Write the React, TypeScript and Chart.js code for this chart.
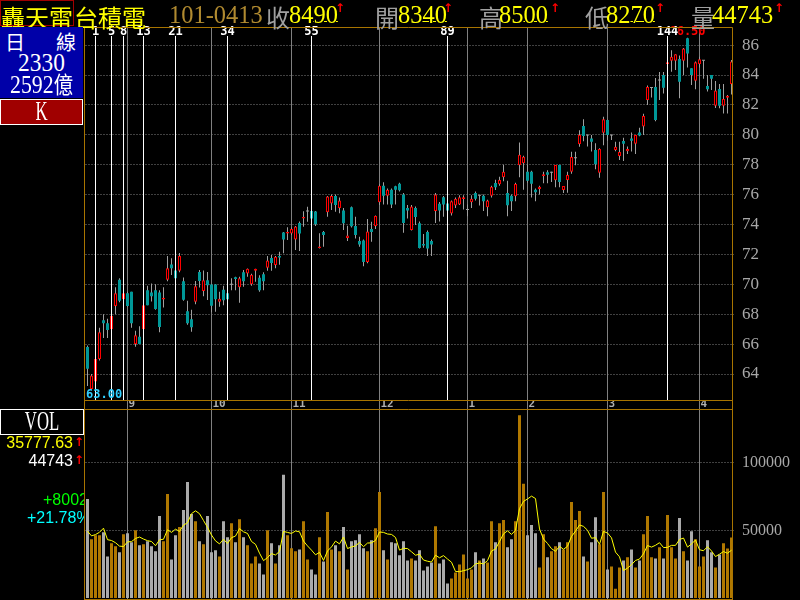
import React, { useEffect, useRef } from 'react';
import { Chart, registerables } from 'chart.js';

Chart.register(...registerables);

// ---------- data ----------
const monthLabels = ['8', '9', '10', '11', '12', '1', '2', '3', '4'];
const monthStartIndex = [0, 10, 31, 51, 73, 95, 110, 130, 153];

const opens = [65.80,63.00,63.50,65.00,67.60,67.40,67.00,68.55,70.30,69.00,
 69.40,69.50,66.00,66.50,67.00,69.60,69.45,69.60,69.45,68.98,
 70.30,71.33,70.93,70.90,70.20,68.20,67.67,68.84,70.82,69.56,
 70.27,69.98,69.98,68.84,69.64,69.40,70.00,70.47,69.80,70.80,
 70.73,70.00,70.90,70.44,70.67,71.10,71.76,71.29,71.90,73.47,
 73.40,73.40,73.00,74.10,74.40,74.90,74.90,74.87,72.42,73.50,
 74.82,75.40,75.90,75.10,74.93,73.09,75.16,73.90,72.89,72.93,
 71.49,73.70,73.90,75.49,76.60,75.93,76.33,76.56,76.73,76.00,
 75.10,73.64,75.10,74.09,72.70,73.50,72.90,74.90,75.38,75.82,
 75.40,74.73,75.27,75.33,75.71,75.00,75.49,76.10,75.96,75.93,
 75.16,75.93,76.78,76.69,77.16,76.10,75.93,75.89,77.96,78.09,
 77.53,77.53,76.33,76.38,77.24,77.49,77.49,76.96,77.98,76.30,
 76.98,77.53,78.47,79.38,80.59,79.99,79.76,78.98,77.47,80.14,
 80.99,79.99,78.98,78.58,79.59,78.90,79.76,79.40,80.16,80.55,
 82.33,83.16,83.20,83.67,84.00,84.74,84.96,84.96,85.07,84.96,
 86.46,84.45,83.62,84.74,84.98,83.26,84.00,81.94,83.06,81.94,
 82.48,83.40];

const highs = [65.90,64.00,65.10,67.10,68.00,67.70,68.00,69.80,70.40,69.50,
 69.50,69.50,66.90,67.20,68.60,69.90,70.05,70.00,69.60,69.80,
 71.90,71.74,71.00,72.10,70.45,68.90,68.30,70.22,70.96,70.93,
 70.82,70.00,70.00,69.50,69.90,69.60,70.40,70.50,70.50,70.96,
 71.05,70.70,71.04,70.60,70.80,71.90,71.96,71.90,72.18,73.50,
 73.81,73.80,73.90,74.20,74.88,75.19,75.00,74.90,73.41,73.57,
 75.90,76.00,76.00,75.80,75.10,73.92,75.20,74.52,73.18,73.00,
 74.37,74.19,74.60,76.70,76.82,76.40,76.40,76.60,76.80,76.10,
 75.30,75.30,75.20,74.20,73.36,73.60,73.00,76.10,75.50,75.90,
 75.50,75.60,75.80,75.95,75.95,75.33,75.95,76.20,75.96,76.00,
 75.65,76.60,77.00,77.20,78.00,76.93,76.00,76.80,79.49,78.60,
 78.00,77.60,76.40,76.60,77.53,77.63,77.53,77.98,78.00,76.57,
 77.53,78.86,78.86,80.30,81.04,79.99,79.99,79.43,79.10,81.20,
 81.00,79.99,79.53,79.53,79.80,79.21,80.16,79.99,80.48,81.40,
 83.30,83.16,83.80,84.20,84.20,84.90,85.66,85.38,85.30,85.80,
 86.50,84.45,84.90,85.22,84.98,84.00,84.00,83.60,83.40,83.40,
 82.67,85.00];

const lows = [63.20,63.00,63.40,64.90,66.40,66.40,66.90,68.00,68.80,68.90,
 68.50,67.10,65.83,66.00,67.00,68.60,68.85,68.30,66.80,68.45,
 70.20,70.62,70.30,70.80,68.90,67.30,66.83,68.66,69.78,69.20,
 68.95,68.13,68.17,68.50,68.60,68.90,69.60,69.60,68.77,69.84,
 70.50,69.90,70.17,69.50,69.60,70.90,70.90,71.07,71.30,72.07,
 72.96,73.30,72.30,72.23,73.85,74.19,74.30,73.90,72.40,72.52,
 74.52,74.97,74.86,74.75,73.63,72.90,73.80,73.07,72.52,71.20,
 71.40,72.85,73.70,75.30,75.33,75.33,75.10,75.33,76.20,73.45,
 74.40,73.60,73.97,72.40,72.45,71.90,71.90,74.10,74.20,74.52,
 74.90,74.60,75.10,75.30,75.00,74.55,75.10,75.60,75.27,74.90,
 74.55,75.80,76.30,76.60,76.90,74.55,74.90,75.55,77.16,76.33,
 76.80,75.80,75.56,76.00,76.76,76.76,76.85,76.49,76.49,76.10,
 76.13,77.40,77.97,79.20,79.57,79.21,78.88,77.70,77.13,79.30,
 79.60,79.65,78.90,78.32,78.25,78.72,78.88,78.72,79.90,79.99,
 81.99,82.50,80.90,82.33,82.77,84.70,84.22,84.33,82.44,84.00,
 84.50,83.33,83.05,84.50,83.75,82.90,83.00,81.80,81.77,81.43,
 81.43,82.70];

const closes = [64.35,63.90,65.00,66.80,67.40,66.95,67.90,69.40,68.90,69.40,
 68.55,67.40,66.60,66.00,68.60,68.60,69.20,68.35,67.15,69.10,
 71.07,71.07,70.40,71.90,68.96,67.40,67.13,69.87,70.22,70.27,
 69.93,68.56,69.00,69.04,68.93,69.00,70.00,70.36,70.40,70.20,
 71.04,70.64,71.04,69.60,70.20,71.60,71.42,71.84,71.80,73.00,
 73.50,73.70,73.87,73.40,74.50,74.90,74.40,74.02,72.53,73.30,
 75.87,75.90,75.30,75.60,74.09,73.27,73.89,73.30,72.67,71.49,
 73.53,73.50,74.57,76.60,75.93,76.33,75.33,76.33,76.29,74.10,
 74.93,75.20,74.50,72.42,72.60,72.40,72.67,76.00,74.93,75.33,
 74.93,75.55,75.73,75.82,75.82,75.00,75.73,75.73,75.96,75.56,
 75.60,76.53,76.49,76.98,77.53,75.29,75.56,76.71,78.67,78.53,
 76.93,76.73,76.16,76.53,77.36,77.33,77.49,77.98,76.85,76.57,
 77.31,78.51,78.47,79.99,79.92,79.99,79.54,78.03,79.05,81.04,
 79.99,79.99,79.20,78.85,79.40,79.05,79.60,79.99,79.96,81.26,
 83.20,83.16,80.99,83.67,83.15,84.85,85.22,85.38,83.55,85.78,
 85.43,84.00,84.85,85.05,84.98,83.04,83.75,82.97,81.94,82.40,
 82.62,84.90];

const volumes = [73400,43500,46500,46500,48700,30800,40500,38300,33800,47300,
 48000,41300,50200,39000,39800,42000,38300,34600,60700,42000,
 77100,28600,46500,52500,65200,86000,62200,56900,42000,39800,
 60700,33800,35300,30800,56900,45000,55400,41300,58400,45000,
 39000,25600,30800,25600,17400,50200,40500,25600,39000,91300,
 46500,36800,34600,36000,56900,28600,21100,17400,45000,27100,
 63700,36000,39000,34600,52500,21100,42000,42800,47300,36800,
 34600,42800,51700,78600,35300,28600,41300,40500,31600,42000,
 27800,29300,27800,35300,20400,23400,26300,53200,25600,28600,
 10700,14400,18900,24900,32300,14400,21100,33800,27800,29300,
 26300,56900,41300,55400,57700,37500,43500,56900,135300,84600,
 46500,54000,48000,22600,47300,30100,34600,38300,41300,36000,
 41300,71100,57700,64400,30800,27100,41300,59900,39800,78600,
 21100,23400,6900,22600,27800,30100,36000,22600,27800,47300,
 60700,30100,29300,37500,29300,61400,37500,29300,59200,34600,
 27800,49500,43500,23400,30800,42800,33800,22600,32300,40500,
 36741,44743];

// first four values of the 5-day volume average (earlier days are off-screen)
const volMaHead = [49500, 46000, 47000, 48700];
const volMaPeriod = 5;

const priceTicks = [64, 66, 68, 70, 72, 74, 76, 78, 80, 82, 84, 86];
const volumeTicks = [50000, 100000];
const fibNumbers = [1, 5, 8, 13, 21, 34, 55, 89, 144];
const fibBaseIndex = 1;

// ---------- styles ----------
const GOLD = '#a87400';
const RED = '#ff0000';
const TEAL = '#009898';
const WICK = '#a0a0a0';
const VOL_UP = '#b07800';
const VOL_DOWN = '#aaaaaa';
const GRID = '#808080';
const AXIS_TEXT = '#a8a8a8';

const SERIF = '"Liberation Serif", serif';
const CJK = '"Noto Sans CJK TC", sans-serif';
const SANS = '"Liberation Sans", sans-serif';
const ARROW = '"DejaVu Sans", sans-serif';

const monthLabelAt = (i: number) => {
  const k = monthStartIndex.indexOf(i);
  return k > 0 ? monthLabels[k] : '';
};

const categories = opens.map((_, i) => {
  let m = 0;
  for (let k = 0; k < monthStartIndex.length; k++) if (i >= monthStartIndex[k]) m = k;
  return `${monthLabels[m]}/${i - monthStartIndex[m] + 1}`;
});

const isUp = (i: number) => closes[i] >= opens[i];

function strokeSegs(ctx: any, segs: number[][]) {
  ctx.beginPath();
  segs.forEach(([x1, y1, x2, y2]) => {
    ctx.moveTo(x1, y1);
    ctx.lineTo(x2, y2);
  });
  ctx.stroke();
}

const priceOverlay = {
  id: 'priceOverlay',
  afterDatasetsDraw(chart: any) {
    const { ctx, chartArea: a, scales } = chart;
    const x = scales.x;
    ctx.save();
    ctx.strokeStyle = '#ffffff';
    ctx.lineWidth = 1;
    fibNumbers.forEach((n) => {
      const px = Math.floor(x.getPixelForValue(fibBaseIndex + n)) + 0.5;
      strokeSegs(ctx, [[px, 36, px, a.bottom]]);
    });
    ctx.font = 'bold 12px "DejaVu Sans Mono"';
    ctx.textBaseline = 'middle';
    ctx.textAlign = 'center';
    const hi = Math.max(...highs);
    const hiIdx = highs.indexOf(hi);
    ctx.fillStyle = RED;
    ctx.fillText(hi.toFixed(2), x.getPixelForValue(hiIdx), 32);
    fibNumbers.forEach((n) => {
      const px = Math.floor(x.getPixelForValue(fibBaseIndex + n)) + 0.5;
      const t = String(n);
      const w = ctx.measureText(t).width;
      ctx.fillStyle = '#000';
      ctx.fillRect(px - w / 2, 28, w, 8);
      ctx.fillStyle = '#ffffff';
      ctx.fillText(t, px, 32);
    });
    const lo = Math.min(...lows);
    const loIdx = lows.indexOf(lo);
    const lt = lo.toFixed(2);
    const lw = ctx.measureText(lt).width;
    ctx.textAlign = 'left';
    ctx.fillStyle = '#30d0ff';
    ctx.fillText(lt, Math.max(a.left + 0.5, x.getPixelForValue(loIdx) - lw / 2), 395);
    ctx.restore();
  },
  afterDraw(chart: any) {
    const { ctx } = chart;
    ctx.save();
    ctx.strokeStyle = GOLD;
    ctx.lineWidth = 1;
    strokeSegs(ctx, [
      [84.5, 27.5, 732.5, 27.5],
      [84.5, 27.5, 84.5, 409],
      [732.5, 27.5, 732.5, 409],
      [84.5, 400.5, 732.5, 400.5],
    ]);
    ctx.restore();
  },
};

const volOverlay = {
  id: 'volOverlay',
  afterDraw(chart: any) {
    const { ctx } = chart;
    ctx.save();
    ctx.strokeStyle = GOLD;
    ctx.lineWidth = 1;
    strokeSegs(ctx, [
      [84.5, 0.5, 732.5, 0.5],
      [84.5, 0, 84.5, 191],
      [732.5, 0, 732.5, 191],
      [84.5, 190.5, 732.5, 190.5],
    ]);
    ctx.restore();
  },
};

const monthGridColor = (c: any) => (monthLabelAt(c.index) ? GRID : 'rgba(0,0,0,0)');

export default function App() {
  const priceRef = useRef<HTMLCanvasElement>(null);
  const volRef = useRef<HTMLCanvasElement>(null);

  useEffect(() => {
    document.body.style.margin = '0';
    document.body.style.background = '#000';

    const bodyData = opens.map((o, i) =>
      o === closes[i] ? [o - 0.035, o + 0.035] : [o, closes[i]]
    );
    const bodyFill = opens.map((o, i) => (o === closes[i] ? WICK : isUp(i) ? '#000000' : TEAL));
    const bodyBorder = opens.map((o, i) => (o === closes[i] ? WICK : isUp(i) ? RED : TEAL));
    const bodyBorderW = opens.map((o, i) => (o !== closes[i] && isUp(i) ? 1 : 0));

    const priceChart = new Chart(priceRef.current as HTMLCanvasElement, {
      type: 'bar',
      data: {
        labels: categories,
        datasets: [
          {
            label: 'wick',
            data: lows.map((l, i) => [l, highs[i]]) as any,
            backgroundColor: WICK,
            barThickness: 1,
            grouped: false,
            order: 2,
            inflateAmount: 0,
            borderWidth: 0,
            minBarLength: 1,
          } as any,
          {
            label: 'body',
            data: bodyData as any,
            backgroundColor: bodyFill,
            borderColor: bodyBorder,
            borderWidth: bodyBorderW,
            borderSkipped: false,
            barThickness: 3,
            grouped: false,
            order: 1,
            inflateAmount: 0,
            minBarLength: 1,
          } as any,
        ],
      },
      options: {
        responsive: false,
        animation: false,
        devicePixelRatio: 1,
        events: [],
        layout: { padding: { left: 85.5, top: 28, right: 0, bottom: 0 } },
        plugins: { legend: { display: false }, tooltip: { enabled: false } },
        scales: {
          x: {
            offset: true,
            ticks: {
              autoSkip: false,
              maxRotation: 0,
              minRotation: 0,
              align: 'start',
              labelOffset: 1,
              padding: -10,
              color: '#b0b0b0',
              font: { family: 'DejaVu Sans Mono', size: 11, weight: 'bold', lineHeight: 1 },
              callback: (_v: any, i: number) => monthLabelAt(i),
            },
            grid: {
              offset: false,
              color: monthGridColor,
              drawTicks: true,
              tickLength: 9,
              lineWidth: 1,
            },
            border: { display: false },
            afterFit: (s: any) => {
              s.height = 9;
              s.paddingLeft = 0;
              s.paddingRight = 0;
            },
          } as any,
          y: {
            position: 'right',
            min: 62.261,
            max: 87.144,
            afterBuildTicks: (s: any) => {
              s.ticks = priceTicks.map((v) => ({ value: v }));
            },
            afterFit: (s: any) => {
              s.width = 66.5;
              s.paddingTop = 0;
              s.paddingBottom = 0;
            },
            ticks: {
              color: AXIS_TEXT,
              padding: 8.5,
              font: { family: 'Liberation Serif', size: 17 },
              callback: (v: any) => String(v),
            },
            grid: { color: GRID, drawTicks: false, lineWidth: 1 },
            border: { display: false, dash: [1, 2] },
          } as any,
        },
      },
      plugins: [priceOverlay],
    });

    const volMA = volumes.map((_, i) => {
      if (i < volMaPeriod - 1) return volMaHead[i];
      let s = 0;
      for (let k = i - volMaPeriod + 1; k <= i; k++) s += volumes[k];
      return s / volMaPeriod;
    });

    const volChart = new Chart(volRef.current as HTMLCanvasElement, {
      type: 'bar',
      data: {
        labels: categories,
        datasets: [
          {
            type: 'line',
            label: 'MA',
            data: volMA,
            borderColor: '#ffff00',
            borderWidth: 1,
            pointRadius: 0,
            tension: 0,
            order: 0,
          } as any,
          {
            type: 'bar',
            label: 'VOL',
            data: volumes,
            backgroundColor: volumes.map((_, i) => (isUp(i) ? VOL_UP : VOL_DOWN)),
            barThickness: 3,
            inflateAmount: 0,
            grouped: false,
            order: 1,
          } as any,
        ],
      },
      options: {
        responsive: false,
        animation: false,
        devicePixelRatio: 1,
        events: [],
        layout: { padding: { left: 85.5, top: 1, right: 0, bottom: 1 } },
        plugins: { legend: { display: false }, tooltip: { enabled: false } },
        scales: {
          x: {
            offset: true,
            ticks: { display: false, autoSkip: false },
            grid: { offset: false, color: monthGridColor, drawTicks: false, lineWidth: 1 },
            border: { display: false },
            afterFit: (s: any) => {
              s.height = 0;
              s.paddingLeft = 0;
              s.paddingRight = 0;
            },
          } as any,
          y: {
            position: 'right',
            min: -741,
            max: 139259,
            afterBuildTicks: (s: any) => {
              s.ticks = volumeTicks.map((v) => ({ value: v }));
            },
            afterFit: (s: any) => {
              s.width = 66.5;
              s.paddingTop = 0;
              s.paddingBottom = 0;
            },
            ticks: {
              color: AXIS_TEXT,
              padding: 8.5,
              font: { family: 'Liberation Serif', size: 16 },
              callback: (v: any) => String(v),
            },
            grid: { color: GRID, drawTicks: false, lineWidth: 1 },
            border: { display: false, dash: [1, 2] },
          } as any,
        },
      },
      plugins: [volOverlay],
    });

    return () => {
      priceChart.destroy();
      volChart.destroy();
    };
  }, []);

  const abs = (left: number, top: number, extra: any = {}) => ({
    position: 'absolute' as const,
    left,
    top,
    whiteSpace: 'nowrap' as const,
    lineHeight: 1,
    ...extra,
  });
  const num = (left: number, text: string, color = '#ffff00') => (
    <span
      style={abs(left, 0, {
        font: `26px ${SERIF}`,
        lineHeight: 1,
        color,
        transform: 'scaleX(0.94)',
        transformOrigin: 'left top',
      })}
    >
      {text.slice(0, text.length - 2)}
      <span
        style={{
          textDecoration: 'underline',
          textUnderlineOffset: '-2px',
          textDecorationThickness: '1px',
        }}
      >
        {text.slice(text.length - 2)}
      </span>
    </span>
  );
  const arrow = (left: number, top: number) => (
    <span style={abs(left, top, { font: `bold 12px ${ARROW}`, color: RED })}>↑</span>
  );
  const cjk = (left: number, text: string, color: string, size = 24) => (
    <span style={abs(left, -1, { font: `${size}px ${CJK}`, lineHeight: 1, color })}>{text}</span>
  );

  return (
    <div
      style={{
        position: 'fixed',
        left: 0,
        top: 0,
        width: 800,
        height: 600,
        background: '#000',
        overflow: 'hidden',
      }}
    >
      <canvas
        ref={priceRef}
        width={800}
        height={409}
        style={{ position: 'absolute', left: 0, top: 0, width: 800, height: 409 }}
      />
      <canvas
        ref={volRef}
        width={800}
        height={191}
        style={{ position: 'absolute', left: 0, top: 409, width: 800, height: 191 }}
      />

      {/* header */}
      <div style={{ position: 'absolute', left: 0, top: 0, width: 800, height: 27, zIndex: 2 }}>
        <div
          style={{
            position: 'absolute',
            left: 0,
            top: 0,
            width: 74,
            height: 26,
            border: '1px solid #a00000',
            boxSizing: 'border-box',
          }}
        />
        {cjk(1, '轟天雷', '#ffff00')}
        {cjk(74, '台積電', '#ffff00')}
        <span
          style={abs(169, 0, {
            font: `26px ${SERIF}`,
            color: '#b08a30',
            transform: 'scaleX(0.94)',
            transformOrigin: 'left top',
          })}
        >
          101-0413
        </span>
        {cjk(266, '收', '#a0a0a0')}
        {num(289, '8490')}
        {arrow(335, 1)}
        {cjk(375, '開', '#a0a0a0')}
        {num(398, '8340')}
        {arrow(443, 1)}
        {cjk(479, '高', '#a0a0a0')}
        {num(499, '8500')}
        {arrow(550, 1)}
        {cjk(585, '低', '#a0a0a0')}
        {num(606, '8270')}
        {arrow(655, 1)}
        {cjk(691, '量', '#a0a0a0')}
        <span
          style={abs(712, 0, {
            font: `26px ${SERIF}`,
            color: '#ffff00',
            transform: 'scaleX(0.94)',
            transformOrigin: 'left top',
          })}
        >
          44743
        </span>
        {arrow(774, 1)}
      </div>

      {/* left panel */}
      <div
        style={{
          position: 'absolute',
          left: 0,
          top: 0,
          width: 84,
          height: 600,
          overflow: 'hidden',
          zIndex: 2,
        }}
      >
        <div style={{ position: 'absolute', left: 0, top: 27, width: 83, height: 71, background: '#0000a8' }} />
        <span style={abs(5, 27, { font: `20px ${CJK}`, color: '#fff' })}>日</span>
        <span style={abs(56, 27, { font: `20px ${CJK}`, color: '#fff' })}>線</span>
        <div
          style={{
            position: 'absolute',
            left: 0,
            top: 50,
            width: 83,
            textAlign: 'center',
            font: `26px ${SERIF}`,
            lineHeight: 1,
            color: '#fff',
            transform: 'scaleX(0.9)',
          }}
        >
          2330
        </div>
        <div
          style={{
            position: 'absolute',
            left: 0,
            top: 72,
            width: 83,
            textAlign: 'center',
            font: `26px ${SERIF}`,
            lineHeight: 1,
            color: '#fff',
            transform: 'scaleX(0.84)',
            whiteSpace: 'nowrap',
          }}
        >
          2592<span style={{ font: `23px ${CJK}`, lineHeight: 1 }}>億</span>
        </div>
        <div
          style={{
            position: 'absolute',
            left: 0,
            top: 99,
            width: 83,
            height: 26,
            background: '#a00000',
            border: '1px solid #fff',
            boxSizing: 'border-box',
          }}
        />
        <div
          style={{
            position: 'absolute',
            left: 0,
            top: 97,
            width: 83,
            textAlign: 'center',
            font: `28px ${SERIF}`,
            lineHeight: 1,
            color: '#fff',
            transform: 'scaleX(0.6)',
          }}
        >
          K
        </div>

        <div
          style={{
            position: 'absolute',
            left: 0,
            top: 409,
            width: 84,
            height: 26,
            background: '#000',
            border: '1px solid #fff',
            boxSizing: 'border-box',
          }}
        />
        <div
          style={{
            position: 'absolute',
            left: 0,
            top: 408,
            width: 84,
            textAlign: 'center',
            font: `27px ${SERIF}`,
            lineHeight: 1,
            color: '#fff',
            transform: 'scaleX(0.62)',
          }}
        >
          VOL
        </div>
        <div
          style={{
            position: 'absolute',
            left: 0,
            top: 435,
            width: 73,
            textAlign: 'right',
            font: `16px ${SANS}`,
            lineHeight: 1,
            color: '#ffff00',
          }}
        >
          35777.63
        </div>
        {arrow(74, 435)}
        <div
          style={{
            position: 'absolute',
            left: 0,
            top: 453,
            width: 73,
            textAlign: 'right',
            font: `16px ${SANS}`,
            lineHeight: 1,
            color: '#ffffff',
          }}
        >
          44743
        </div>
        {arrow(74, 453)}
        <span style={abs(43, 491, { font: `16px ${SANS}`, color: '#00ff00' })}>+8002</span>
        <span style={abs(27, 509, { font: `16px ${SANS}`, color: '#00ffff' })}>+21.78%</span>
      </div>
    </div>
  );
}
